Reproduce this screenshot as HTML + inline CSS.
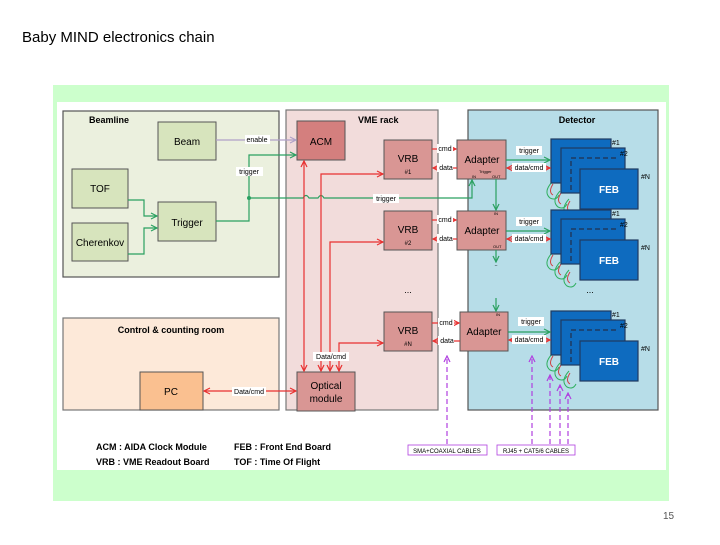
<!DOCTYPE html>
<html><head><meta charset="utf-8"><style>
body{margin:0;width:720px;height:540px;background:#fff;overflow:hidden;font-family:"Liberation Sans",sans-serif}
</style></head><body>
<svg width="720" height="540" viewBox="0 0 720 540" xmlns="http://www.w3.org/2000/svg" font-family="Liberation Sans, sans-serif">
<defs>
<marker id="ar" markerWidth="8" markerHeight="8" refX="7" refY="4" orient="auto-start-reverse" markerUnits="userSpaceOnUse"><path d="M1,1 L7,4 L1,7" fill="none" stroke="#e83030" stroke-width="1.2"/></marker>
<marker id="ag" markerWidth="8" markerHeight="8" refX="7" refY="4" orient="auto-start-reverse" markerUnits="userSpaceOnUse"><path d="M1,1 L7,4 L1,7" fill="none" stroke="#2aa060" stroke-width="1.2"/></marker>
<marker id="ap" markerWidth="8" markerHeight="8" refX="7" refY="4" orient="auto" markerUnits="userSpaceOnUse"><path d="M1,1 L7,4 L1,7" fill="none" stroke="#b0a0c8" stroke-width="1.2"/></marker>
<marker id="av" markerWidth="8" markerHeight="8" refX="7" refY="4" orient="auto" markerUnits="userSpaceOnUse"><path d="M1,1 L7,4 L1,7" fill="none" stroke="#b040e0" stroke-width="1.2"/></marker>
</defs>
<text x="22" y="42" font-size="15">Baby MIND electronics chain</text>
<rect x="53" y="85" width="616" height="416" fill="#ccffcc"/>
<rect x="57" y="102" width="609" height="368" fill="#fff"/>
<rect x="63" y="111" width="216" height="166" fill="#ebf0de" stroke="#555" stroke-width="1.2"/>
<text x="89" y="123" font-size="9" font-weight="bold">Beamline</text>
<rect x="286" y="110" width="152" height="300" fill="#f2dcdb" stroke="#777" stroke-width="1.2"/>
<text x="358" y="123" font-size="9" font-weight="bold">VME rack</text>
<rect x="468" y="110" width="190" height="300" fill="#b7dde8" stroke="#555" stroke-width="1.2"/>
<text x="577" y="123" font-size="9" font-weight="bold" text-anchor="middle">Detector</text>
<rect x="63" y="318" width="216" height="92" fill="#fde9d9" stroke="#777" stroke-width="1.2"/>
<text x="171" y="333" font-size="9" font-weight="bold" text-anchor="middle">Control &amp; counting room</text>
<g fill="#d7e4bd" stroke="#555" stroke-width="1">
<rect x="158" y="122" width="58" height="38"/>
<rect x="72" y="169" width="56" height="39"/>
<rect x="72" y="223" width="56" height="38"/>
<rect x="158" y="202" width="58" height="39"/>
</g>
<g font-size="10" text-anchor="middle">
<text x="187" y="145">Beam</text><text x="100" y="192">TOF</text><text x="100" y="246">Cherenkov</text><text x="187" y="226">Trigger</text>
</g>
<g fill="#d99694" stroke="#555" stroke-width="1">
<rect x="297" y="121" width="48" height="39" fill="#d47f7e"/>
<rect x="384" y="140" width="48" height="39"/>
<rect x="384" y="211" width="48" height="39"/>
<rect x="384" y="312" width="48" height="39"/>
<rect x="457" y="140" width="49" height="39"/>
<rect x="457" y="211" width="49" height="39"/>
<rect x="460" y="312" width="48" height="39"/>
<rect x="297" y="372" width="58" height="39"/>
<rect x="140" y="372" width="63" height="38" fill="#fac090"/>
</g>
<g font-size="10" text-anchor="middle">
<text x="321" y="145">ACM</text>
<text x="408" y="162">VRB</text><text x="408" y="174" font-size="6">#1</text>
<text x="408" y="233">VRB</text><text x="408" y="245" font-size="6">#2</text>
<text x="408" y="334">VRB</text><text x="408" y="346" font-size="6">#N</text>
<text x="482" y="163">Adapter</text><text x="482" y="234">Adapter</text><text x="484" y="335">Adapter</text>
<text x="326" y="389">Optical</text><text x="326" y="402">module</text>
<text x="171" y="395">PC</text>
</g>
<g font-size="4"><text x="472" y="178">IN</text><text x="479" y="173">Trigger</text><text x="492" y="178">OUT</text><text x="494" y="215">IN</text><text x="493" y="248">OUT</text><text x="496" y="316">IN</text></g>
<!-- green loops (behind FEBs) -->
<g fill="none" stroke-width="1">
<g id="loops">
<path d="M552,182 q-9,10 -2,16 q6,3 9,-3 M560,191 q-9,10 -2,16 q6,3 9,-3 M569,199 q-9,10 -2,16 q6,3 9,-3" stroke="#30b060"/>
<path d="M553,184 q-5,8 0,11 M561,193 q-5,8 0,11 M570,201 q-5,8 0,11" stroke="#d04040"/>
</g>
<use href="#loops" y="71"/><use href="#loops" y="172"/>
</g>
<g stroke="#1f3a60" stroke-width="1.2" fill="#0e6bbf">
<g id="feb">
<rect x="551" y="139" width="60" height="44"/>
<rect x="561" y="148" width="64" height="45"/>
<path d="M571,190 V158 H616" fill="none" stroke-dasharray="5,3" stroke-width="1.5"/>
<rect x="580" y="169" width="58" height="40"/>
</g>
<use href="#feb" y="71"/>
<use href="#feb" y="172"/>
</g>
<g font-size="10" font-weight="bold" fill="#fff" text-anchor="middle">
<text x="609" y="193">FEB</text>
<text x="609" y="264">FEB</text>
<text x="609" y="365">FEB</text>
</g>
<g font-size="7"><text x="612" y="145">#1</text><text x="620" y="156">#2</text><text x="641" y="179">#N</text>
<text x="612" y="216">#1</text><text x="620" y="227">#2</text><text x="641" y="250">#N</text>
<text x="612" y="317">#1</text><text x="620" y="328">#2</text><text x="641" y="351">#N</text></g>
<path d="M216,140 H296" stroke="#b0a0c8" stroke-width="1.2" marker-end="url(#ap)" fill="none"/>
<rect x="245" y="135" width="25" height="9" fill="#fff"/><text x="257" y="142" font-size="7" text-anchor="middle">enable</text>
<g stroke="#2aa060" stroke-width="1.2" fill="none">
<path d="M128,200 H144 V216 H157" marker-end="url(#ag)"/>
<path d="M128,254 H144 V228 H157" marker-end="url(#ag)"/>
<path d="M216,221 H249 V155 H296" marker-end="url(#ag)"/>
<path d="M249,198 H303 q3,-5 6,0 H318 q3,-5 6,0 H472 V180" marker-end="url(#ag)"/>
<path d="M496,179 V210" marker-end="url(#ag)"/>
<path d="M496,250 V262" marker-end="url(#ag)"/>
<path d="M496,298 V311" marker-end="url(#ag)"/>
<path d="M506,160 H550" marker-end="url(#ag)"/><path d="M506,231 H550" marker-end="url(#ag)"/><path d="M508,332 H550" marker-end="url(#ag)"/>
</g>
<circle cx="249" cy="198" r="2" fill="#2aa060"/>
<rect x="236" y="167" width="27" height="9" fill="#fff"/><text x="249" y="174" font-size="7" text-anchor="middle">trigger</text>
<rect x="373" y="194" width="26" height="9" fill="#fff"/><text x="386" y="201" font-size="7" text-anchor="middle">trigger</text>
<g stroke="#e83030" stroke-width="1.2" fill="none">
<path d="M304,371 V161" marker-end="url(#ar)" marker-start="url(#ar)"/>
<path d="M321,371 V174 H383" marker-end="url(#ar)" marker-start="url(#ar)"/>
<path d="M330,371 V242 H383" marker-end="url(#ar)" marker-start="url(#ar)"/>
<path d="M339,371 V343 H383" marker-end="url(#ar)" marker-start="url(#ar)"/>
<path d="M204,391 H296" marker-end="url(#ar)" marker-start="url(#ar)"/>
<path d="M432,149 H456" marker-end="url(#ar)"/><path d="M457,168 H433" marker-end="url(#ar)"/>
<path d="M432,220 H456" marker-end="url(#ar)"/><path d="M457,239 H433" marker-end="url(#ar)"/>
<path d="M432,323 H459" marker-end="url(#ar)"/><path d="M460,341 H433" marker-end="url(#ar)"/>
<path d="M507,168 H550" marker-end="url(#ar)" marker-start="url(#ar)"/>
<path d="M507,239 H550" marker-end="url(#ar)" marker-start="url(#ar)"/>
<path d="M509,340 H550" marker-end="url(#ar)" marker-start="url(#ar)"/>
</g>
<g font-size="7" text-anchor="middle">
<rect x="437" y="144" width="16" height="9" fill="#fff"/><text x="445" y="151">cmd</text>
<rect x="437" y="163" width="16" height="9" fill="#fff"/><text x="446" y="170">data</text>
<rect x="437" y="215" width="16" height="9" fill="#fff"/><text x="445" y="222">cmd</text>
<rect x="437" y="234" width="16" height="9" fill="#fff"/><text x="446" y="241">data</text>
<rect x="438" y="318" width="16" height="9" fill="#fff"/><text x="446" y="325">cmd</text>
<rect x="438" y="336" width="16" height="9" fill="#fff"/><text x="447" y="343">data</text>
<rect x="516" y="146" width="26" height="9" fill="#fff"/><text x="529" y="153">trigger</text>
<rect x="512" y="163" width="34" height="9" fill="#fff"/><text x="529" y="170">data/cmd</text>
<rect x="516" y="217" width="26" height="9" fill="#fff"/><text x="529" y="224">trigger</text>
<rect x="512" y="234" width="34" height="9" fill="#fff"/><text x="529" y="241">data/cmd</text>
<rect x="518" y="317" width="26" height="9" fill="#fff"/><text x="531" y="324">trigger</text>
<rect x="512" y="335" width="34" height="9" fill="#fff"/><text x="529" y="342">data/cmd</text>
<rect x="313" y="352" width="36" height="9" fill="#fff"/><text x="331" y="359">Data/cmd</text>
<rect x="232" y="387" width="34" height="9" fill="#fff"/><text x="249" y="394">Data/cmd</text>
</g>
<g font-size="9" text-anchor="middle"><text x="408" y="293">...</text><text x="590" y="293">...</text><text x="496" y="266" font-size="6">..</text></g>
<g stroke="#b040e0" stroke-width="1.2" fill="none" stroke-dasharray="5,3">
<path d="M447,444 V356" marker-end="url(#av)"/>
<path d="M532,444 V356" marker-end="url(#av)"/>
<path d="M550,444 V375" marker-end="url(#av)"/>
<path d="M560,444 V385" marker-end="url(#av)"/>
<path d="M568,444 V393" marker-end="url(#av)"/>
</g>
<rect x="408" y="445" width="79" height="10" fill="#fff" stroke="#b040e0" stroke-width="0.8"/>
<text x="447" y="453" font-size="6" text-anchor="middle">SMA+COAXIAL CABLES</text>
<rect x="497" y="445" width="78" height="10" fill="#fff" stroke="#b040e0" stroke-width="0.8"/>
<text x="536" y="453" font-size="6" text-anchor="middle">RJ45 + CAT5/6 CABLES</text>
<g font-size="9" font-weight="bold"><text x="96" y="450">ACM : AIDA  Clock Module</text><text x="96" y="465">VRB : VME Readout Board</text>
<text x="234" y="450">FEB : Front End Board</text><text x="234" y="465">TOF : Time Of Flight</text></g>
<text x="663" y="519" font-size="10" fill="#555">15</text>
</svg>
</body></html>
